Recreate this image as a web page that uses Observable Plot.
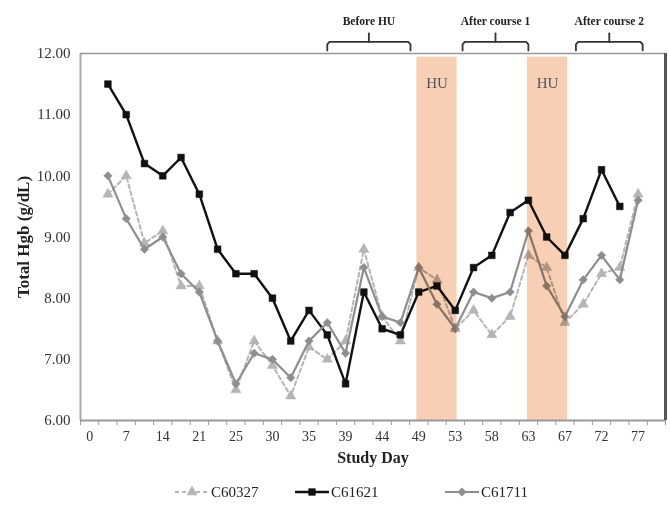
<!DOCTYPE html>
<html>
<head>
<meta charset="utf-8">
<script src="https://cdn.jsdelivr.net/npm/d3@7"></script>
<script src="https://cdn.jsdelivr.net/npm/@observablehq/plot@0.6"></script>
<style>
  html, body { margin: 0; padding: 0; background: white; }
  #chart { width: 670px; }
  svg { display: block; }
</style>
</head>
<body>
<div id="chart"></div>
<script>
// ---- data ----
const tickLabels = ["0","7","14","21","25","30","35","39","44","49","53","58","63","67","72","77"];
const seriesNames = ["C60327", "C61621", "C61711"];
const C60327 = [null, 9.7, 10.0, 8.9, 9.1, 8.2, 8.2, 7.3, 6.5, 7.3, 6.9, 6.4, 7.2, 7.0, 7.3, 8.8, 7.7, 7.3, 8.5, 8.3, 7.5, 7.8, 7.4, 7.7, 8.7, 8.5, 7.6, 7.9, 8.4, 8.5, 9.7, null];
const C61621 = [null, 11.5, 11.0, 10.2, 10.0, 10.3, 9.7, 8.8, 8.4, 8.4, 8.0, 7.3, 7.8, 7.4, 6.6, 8.1, 7.5, 7.4, 8.1, 8.2, 7.8, 8.5, 8.7, 9.4, 9.6, 9.0, 8.7, 9.3, 10.1, 9.5, null, null];
const C61711 = [null, 10.0, 9.3, 8.8, 9.0, 8.4, 8.1, 7.3, 6.6, 7.1, 7.0, 6.7, 7.3, 7.6, 7.1, 8.5, 7.7, 7.6, 8.5, 7.9, 7.5, 8.1, 8.0, 8.1, 9.1, 8.2, 7.7, 8.3, 8.7, 8.3, 9.6, null];
const yTicks = [6, 7, 8, 9, 10, 11, 12];
const huStart = [18.4, 24.45];
const huEnd = [20.6, 26.65];
const periodNames = ["Before HU", "After course 1", "After course 2"];
const periodStart = [13.5, 20.9, 27.1];
const periodEnd = [18.05, 24.5, 30.75];

// ---- styles ----
const serif = "'Liberation Serif', 'Times New Roman', serif";
const styles = {
  C60327: {stroke: "#b5b5b5", dash: "4,3", symbol: "triangle", width: 2},
  C61621: {stroke: "#111111", dash: null, symbol: "square", width: 2.4},
  C61711: {stroke: "#8e8e8e", dash: null, symbol: "diamond2", width: 2.2}
};
const nCat = 32;

const toRows = (name, vals) => vals.map((v, i) => ({x: i + 0.5, y: v, s: name})).filter(d => d.y != null);
const seriesData = {C60327: toRows("C60327", C60327), C61621: toRows("C61621", C61621), C61711: toRows("C61711", C61711)};

const minorTicks = d3.range(0, nCat + 1);
const labelPos = tickLabels.map((_, k) => 2 * k + 0.5);
const huBands = huStart.map((s, i) => ({x1: s, x2: huEnd[i]}));
const periods = periodNames.map((n, i) => ({name: n, x1: periodStart[i], x2: periodEnd[i]}));

// bracket paths
const bracketLines = [];
periods.forEach((p, i) => {
  const m = (p.x1 + p.x2) / 2;
  const pts = [
    [p.x1, 12.05], [p.x1, 12.15], [p.x1 + 0.12, 12.19],
    [p.x2 - 0.12, 12.19], [p.x2, 12.15], [p.x2, 12.05]
  ];
  pts.forEach(([x, y]) => bracketLines.push({x, y, g: "b" + i}));
  bracketLines.push({x: m, y: 12.19, g: "t" + i});
  bracketLines.push({x: m, y: 12.33, g: "t" + i});
});

const lineMarks = [];
for (const name of seriesNames) {
  const st = styles[name];
  lineMarks.push(Plot.line(seriesData[name], {
    x: "x", y: "y", stroke: st.stroke, strokeWidth: st.width,
    strokeDasharray: st.dash ?? undefined
  }));
  lineMarks.push(Plot.dot(seriesData[name], {
    x: "x", y: "y", symbol: () => st.symbol, r: 3.8,
    fill: st.stroke, stroke: st.stroke, strokeWidth: 0.5
  }));
}

const chart = Plot.plot({
  width: 670,
  height: 475,
  marginTop: 53,
  marginBottom: 55,
  marginLeft: 80,
  marginRight: 5,
  style: {fontFamily: serif, background: "white", color: "#222"},
  x: {domain: [0, nCat]},
  y: {domain: [6, 12]},
  symbol: {type: "identity"},
  marks: [
    Plot.axisY({ticks: yTicks, tickFormat: d3.format(".2f"), tickSize: 0, tickPadding: 10, fontSize: 15, label: null, fill: "#333"}),
    Plot.axisX({ticks: minorTicks, tickSize: 5, tickFormat: () => "", stroke: "#999", label: null}),
    Plot.axisX({ticks: labelPos, tickFormat: d => tickLabels[Math.round((d - 0.5) / 2)], tickSize: 0, tickPadding: 11, fontSize: 14, label: null, fill: "#333"}),
    ...lineMarks,
    Plot.rect(huBands, {x1: "x1", x2: "x2", y1: 6, y2: 11.94, fill: "#f7cfb4", mixBlendMode: "multiply"}),
    Plot.text(huBands, {x: d => (d.x1 + d.x2) / 2, y: 11.52, text: () => "HU", fontSize: 15, fill: "#555"}),
    Plot.ruleX([0], {y1: 6, y2: 12, stroke: "#aaa", strokeWidth: 2}),
    Plot.ruleY([6], {x1: 0, x2: nCat, stroke: "#999", strokeWidth: 2}),
    Plot.ruleY([12], {x1: 0, x2: nCat, stroke: "#999", strokeWidth: 1.5}),
    Plot.ruleX([nCat], {y1: 6, y2: 12, stroke: "#555", strokeWidth: 3}),
    Plot.line(bracketLines, {x: "x", y: "y", z: "g", stroke: "#333", strokeWidth: 1.8}),
    Plot.text(periods, {x: d => (d.x1 + d.x2) / 2, y: 12.53, text: "name", fontSize: 11.5, fontWeight: "bold", fill: "#222"}),
    Plot.text(["Total Hgb (g/dL)"], {frameAnchor: "left", textAnchor: "middle", dx: -57, rotate: -90, fontSize: 17, fontWeight: "bold", fill: "#222"}),
    Plot.text(["Study Day"], {frameAnchor: "bottom", dy: 42, fontSize: 16, fontWeight: "bold", fill: "#222"})
  ]
});
document.getElementById("chart").appendChild(chart);

// ---- legend below the chart ----
const legendItems = [
  {name: "C60327", x0: 175},
  {name: "C61621", x0: 295},
  {name: "C61711", x0: 445}
];
const leg = d3.select("#chart").append("svg")
  .attr("width", 670).attr("height", 38)
  .style("font-family", serif);
const symMap = {triangle: d3.symbolTriangle, square: d3.symbolSquare, diamond2: d3.symbolDiamond2};
legendItems.forEach(it => {
  const st = styles[it.name];
  const g = leg.append("g").attr("transform", `translate(${it.x0},17)`);
  g.append("line").attr("x1", 0).attr("x2", 34).attr("y1", 0).attr("y2", 0)
    .attr("stroke", st.stroke).attr("stroke-width", st.width)
    .attr("stroke-dasharray", st.dash);
  g.append("path").attr("transform", "translate(17,0)")
    .attr("d", d3.symbol(symMap[st.symbol], Math.PI * 3.8 * 3.8)())
    .attr("fill", st.stroke).attr("stroke", st.stroke).attr("stroke-width", 0.5);
  g.append("text").attr("x", 36).attr("y", 0).attr("dy", "0.35em")
    .attr("font-size", 15).attr("fill", "#222").text(it.name);
});
</script>
</body>
</html>
